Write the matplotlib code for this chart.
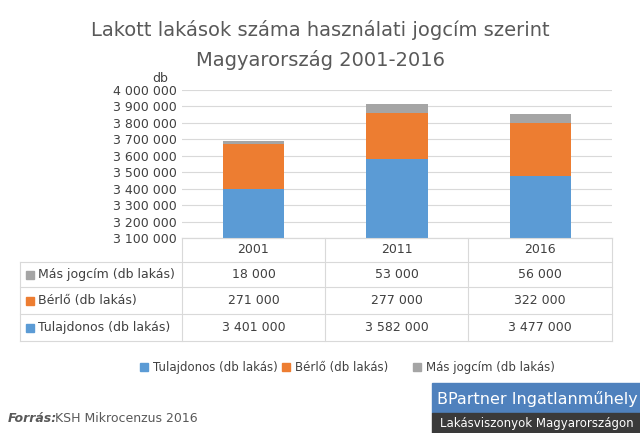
import matplotlib
matplotlib.use("Agg")
import matplotlib.pyplot as plt
from matplotlib.patches import Rectangle
from matplotlib.lines import Line2D

years = ["2001", "2011", "2016"]
tulajdonos = [3401000, 3582000, 3477000]
berlo = [271000, 277000, 322000]
mas = [18000, 53000, 56000]
series_names = ["Tulajdonos (db lakás)", "Bérlő (db lakás)", "Más jogcím (db lakás)"]
colors = ["#5B9BD5", "#ED7D31", "#A5A5A5"]

W, H = 640, 433
def fx(x): return x / W
def fy(y): return 1 - y / H

def fmt(v):
    return f"{v:,.0f}".replace(",", " ")

fig = plt.figure(figsize=(6.4, 4.33), dpi=100)
fig.patch.set_facecolor("white")
txt = "#404040"

fig.text(0.5, fy(30), "Lakott lakások száma használati jogcím szerint", ha="center", va="center", fontsize=14, color="#595959")
fig.text(0.5, fy(60), "Magyarország 2001-2016", ha="center", va="center", fontsize=14, color="#595959")

L, R, T, B = 182, 612, 90, 238
ax = fig.add_axes([fx(L), fy(B), fx(R) - fx(L), fy(T) - fy(B)])
x = range(len(years))
ax.bar(x, tulajdonos, width=0.43, color=colors[0], zorder=3)
b2 = [t for t in tulajdonos]
ax.bar(x, berlo, bottom=b2, width=0.43, color=colors[1], zorder=3)
b3 = [t + b for t, b in zip(tulajdonos, berlo)]
ax.bar(x, mas, bottom=b3, width=0.43, color=colors[2], zorder=3)
ax.set_xlim(-0.5, 2.5)
ax.set_ylim(3100000, 4000000)
ax.set_yticks(range(3100000, 4000001, 100000))
ax.set_yticklabels([fmt(v) for v in range(3100000, 4000001, 100000)], fontsize=9, color=txt)
ax.yaxis.grid(True, color="#D9D9D9", lw=0.8, zorder=0)
ax.set_xticks([])
for s in ["top", "right", "left"]:
    ax.spines[s].set_visible(False)
ax.spines["bottom"].set_color("#D9D9D9")
ax.tick_params(axis="y", length=0, pad=4)
fig.text(fx(168), fy(78), "db", ha="right", va="center", fontsize=9, color=txt)

# data table
lc = "#D9D9D9"
cols = [182, 325, 468, 612]
rows = [238, 262, 287, 314, 341]
for c in cols:
    fig.add_artist(Line2D([fx(c)] * 2, [fy(238), fy(341)], color=lc, lw=0.8))
for i, r in enumerate(rows):
    x0 = 182 if i == 0 else 20
    fig.add_artist(Line2D([fx(x0), fx(612)], [fy(r)] * 2, color=lc, lw=0.8))
fig.add_artist(Line2D([fx(20)] * 2, [fy(262), fy(341)], color=lc, lw=0.8))
for j, yr in enumerate(years):
    fig.text(fx((cols[j] + cols[j + 1]) / 2), fy(250), yr, ha="center", va="center", fontsize=9, color=txt)
table_rows = [(series_names[2], mas, colors[2]), (series_names[1], berlo, colors[1]), (series_names[0], tulajdonos, colors[0])]
for i, (name, vals, col) in enumerate(table_rows):
    yc = (rows[i + 1] + rows[i + 2]) / 2
    fig.add_artist(Rectangle((fx(26), fy(yc + 4)), fx(8), 8 / H, color=col))
    fig.text(fx(38), fy(yc), name, ha="left", va="center", fontsize=9, color=txt)
    for j, v in enumerate(vals):
        fig.text(fx((cols[j] + cols[j + 1]) / 2), fy(yc), fmt(v), ha="center", va="center", fontsize=9, color=txt)

# legend
leg_x = [140, 282, 413]
for name, col, lx in zip(series_names, colors, leg_x):
    fig.add_artist(Rectangle((fx(lx), fy(371)), fx(8), 8 / H, color=col))
    fig.text(fx(lx + 13), fy(367), name, ha="left", va="center", fontsize=8.5, color=txt)

fig.text(fx(8), fy(418), "Forrás:", ha="left", va="center", fontsize=9, color="#595959", fontweight="bold", style="italic")
fig.text(fx(55), fy(418), "KSH Mikrocenzus 2016", ha="left", va="center", fontsize=9, color="#595959")

fig.add_artist(Rectangle((fx(432), fy(413)), fx(208), 30 / H, color="#4F81BD"))
fig.add_artist(Rectangle((fx(432), fy(433)), fx(208), 20 / H, color="#3A3A3A"))
fig.text(fx(537), fy(399), "BPartner Ingatlanműhely", ha="center", va="center", fontsize=11.5, color="white")
fig.text(fx(537), fy(423), "Lakásviszonyok Magyarországon", ha="center", va="center", fontsize=8.5, color="white")

fig.savefig("out.png", dpi=100)
